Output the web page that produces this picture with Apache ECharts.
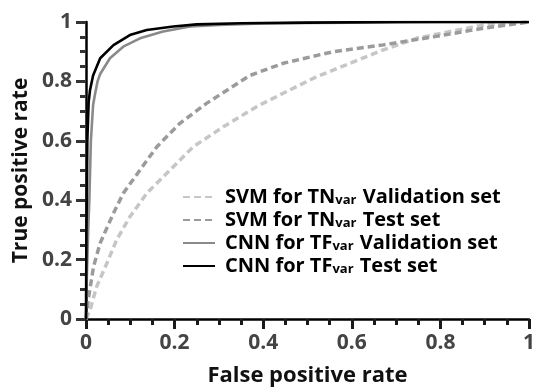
<!DOCTYPE html>
<html>
<head>
<meta charset="utf-8">
<script src="https://cdn.jsdelivr.net/npm/echarts@6/dist/echarts.min.js"></script>
<style>
  html, body { margin: 0; padding: 0; background: #fff; }
  #chart { width: 536px; height: 391px; }
</style>
</head>
<body>
<div id="chart"></div>
<script>
// ROC curves (x = false positive rate, y = true positive rate)
const svmValFpr = [0, 0.009, 0.024, 0.047, 0.069, 0.099, 0.137, 0.19, 0.242, 0.31, 0.385, 0.445, 0.521, 0.596, 0.671, 0.746, 0.822, 0.897, 1];
const svmValTpr = [0, 0.03, 0.109, 0.187, 0.266, 0.344, 0.423, 0.502, 0.58, 0.647, 0.715, 0.76, 0.816, 0.861, 0.906, 0.945, 0.968, 0.99, 1];

const svmTestFpr = [0, 0.005, 0.017, 0.032, 0.062, 0.084, 0.122, 0.16, 0.212, 0.272, 0.37, 0.445, 0.558, 0.671, 0.784, 0.897, 1];
const svmTestTpr = [0, 0.064, 0.176, 0.256, 0.356, 0.423, 0.502, 0.58, 0.659, 0.726, 0.82, 0.861, 0.9, 0.923, 0.95, 0.979, 1];

const cnnValFpr = [0, 0.002, 0.005, 0.0075, 0.011, 0.016, 0.02, 0.026, 0.032, 0.054, 0.084, 0.122, 0.174, 0.235, 0.3, 0.4, 0.5, 0.6, 0.8, 1];
const cnnValTpr = [0, 0.15, 0.3, 0.4, 0.6, 0.72, 0.754, 0.8, 0.825, 0.878, 0.917, 0.945, 0.968, 0.985, 0.99, 0.995, 0.997, 0.998, 1, 1];

const cnnTestFpr = [0, 0.001, 0.003, 0.006, 0.009, 0.016, 0.032, 0.062, 0.099, 0.137, 0.197, 0.25, 0.35, 0.5, 0.7, 1];
const cnnTestTpr = [0, 0.3, 0.6, 0.73, 0.77, 0.82, 0.878, 0.922, 0.956, 0.973, 0.985, 0.992, 0.996, 0.998, 1, 1];

const seriesNames = ['SVM for TNvar Validation set', 'SVM for TNvar Test set', 'CNN for TFvar Validation set', 'CNN for TFvar Test set'];
const legendLabels = ['SVM for TN{sub|var} Validation set', 'SVM for TN{sub|var} Test set', 'CNN for TF{sub|var} Validation set', 'CNN for TF{sub|var} Test set'];

const FONT = '"Open Sans", sans-serif';

const zip = (xs, ys) => xs.map((x, i) => [x, ys[i]]);

const makeSeries = (name, data, color, dashed) => ({
  name,
  type: 'line',
  data,
  symbol: 'none',
  smooth: false,
  lineStyle: dashed
    ? { color, width: 3.5, type: [7, 4] }
    : { color, width: 2.6 },
  itemStyle: { color },
});

// fresh objects per axis so nothing is shared between x and y
const makeAxis = (name, nameGap, nameSize, tickColor) => ({
  type: 'value',
  min: 0,
  max: 1,
  interval: 0.2,
  name,
  nameGap,
  nameLocation: 'middle',
  nameTextStyle: { color: '#111', fontFamily: FONT, fontWeight: 'bold', fontSize: nameSize },
  axisLine: { show: true, onZero: false, lineStyle: { color: '#000', width: 2.5 } },
  axisTick: { show: true, inside: false, length: 10, lineStyle: { color: tickColor, width: 3 } },
  minorTick: { show: true, splitNumber: 4, length: 6, lineStyle: { color: tickColor, width: 3 } },
  splitLine: { show: false },
  axisLabel: { color: '#444', fontFamily: FONT, fontWeight: 'bold', fontSize: 21, margin: 14 },
});

const chart = echarts.init(document.getElementById('chart'), null, { renderer: 'canvas' });

chart.setOption({
  animation: false,
  backgroundColor: '#fff',
  grid: { left: 86, right: 7, top: 22, bottom: 72, containLabel: false, outerBoundsMode: 'none' },
  xAxis: makeAxis('False positive rate', 46, 22, '#1a1a1a'),
  yAxis: makeAxis('True positive rate', 44, 21, '#333333'),
  legend: {
    orient: 'vertical',
    left: 177,
    top: 182,
    itemWidth: 32,
    itemHeight: 14,
    itemGap: 3,
    data: seriesNames,
    formatter: (name) => legendLabels[seriesNames.indexOf(name)],
    // hide the circle ECharts adds to line legend icons
    itemStyle: { color: 'rgba(0,0,0,0)', opacity: 0, borderWidth: 0 },
    textStyle: {
      color: '#000',
      fontFamily: FONT,
      fontWeight: 'bold',
      fontSize: 20,
      lineHeight: 20,
      padding: [0, 0, 0, 5],
      rich: {
        sub: { fontFamily: FONT, fontWeight: 'bold', fontSize: 13, color: '#000', verticalAlign: 'bottom', padding: [8, 1, 0, 0] },
      },
    },
  },
  series: [
    makeSeries(seriesNames[0], zip(svmValFpr, svmValTpr), '#c6c6c6', true),
    makeSeries(seriesNames[1], zip(svmTestFpr, svmTestTpr), '#9b9b9b', true),
    makeSeries(seriesNames[2], zip(cnnValFpr, cnnValTpr), '#8a8a8a', false),
    makeSeries(seriesNames[3], zip(cnnTestFpr, cnnTestTpr), '#000', false),
  ],
});
</script>
</body>
</html>
